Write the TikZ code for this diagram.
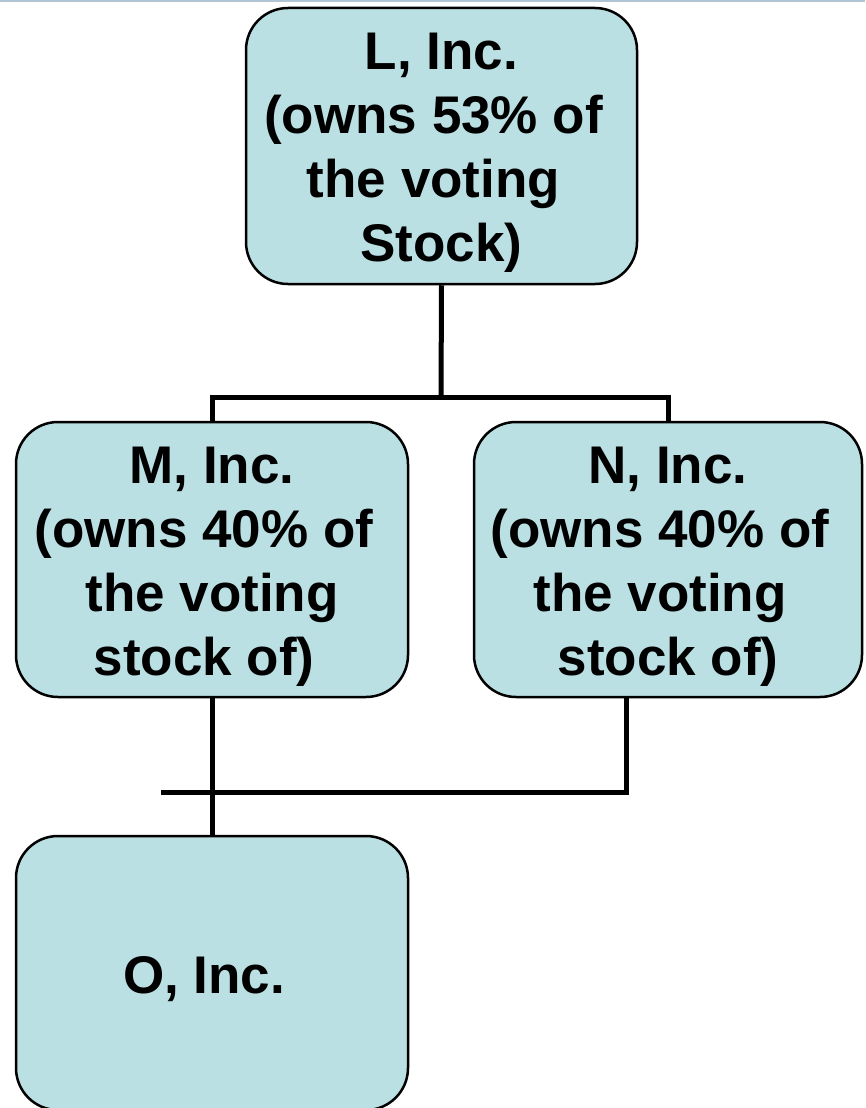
\documentclass[tikz,border=0pt]{standalone}
\usepackage{fontspec}
\setmainfont{Liberation Sans}
\definecolor{boxfill}{RGB}{186,224,227}
\definecolor{topline}{RGB}{176,196,214}
\newcommand{\tsp}{\rule{.3em}{0pt}}
\begin{document}
\begin{tikzpicture}[x=1pt,y=-1pt,
  entity/.style={draw=black, line width=2.5pt, fill=boxfill, rectangle,
    rounded corners=42pt, inner sep=0pt},
  entitytext/.style={inner sep=0pt, align=center,
    font=\fontsize{53}{64}\selectfont\bfseries},
  link/.style={draw=black, line width=5pt, line join=miter}]
\clip (0,0) rectangle (865,1108);
\fill[white] (0,0) rectangle (865,1108);
\fill[topline] (0,0) rectangle (865,2.5);

\node[entity, minimum width=391pt, minimum height=276pt] (L) at (441.5,146) {};
\node[entitytext] (Lt) at (441.5,153)
  {L, Inc.\\(owns 53\% of\tsp\\the voting\tsp\\Stock)};
\node[entity, minimum width=392pt, minimum height=275pt] (M) at (212,559.5) {};
\node[entitytext] (Mt) at (212,566.5)
  {M, Inc.\\(owns 40\% of\tsp\\the voting\\stock of)\tsp};
\node[entity, minimum width=388pt, minimum height=275pt] (N) at (668,559.5) {};
\node[entitytext] (Nt) at (668,566.5)
  {N, Inc.\\(owns 40\% of\tsp\\the voting\tsp\\stock of)};
\node[entity, minimum width=392pt, minimum height=274pt] (O) at (212,973) {};
\node[entitytext] (Ot) at (212,979) {O, Inc.\tsp};

\coordinate (jt) at (441,397);
\coordinate (nb) at (626,697);
\coordinate (hl) at (161,792);

\draw[link] (L.south) -- (jt);
\draw[link] (M.north) -- (M.north |- jt) -- (N.north |- jt) -- (N.north);
\draw[link] (M.south) -- (O.north);
\draw[link] (nb) |- (hl);
\end{tikzpicture}
\end{document}
